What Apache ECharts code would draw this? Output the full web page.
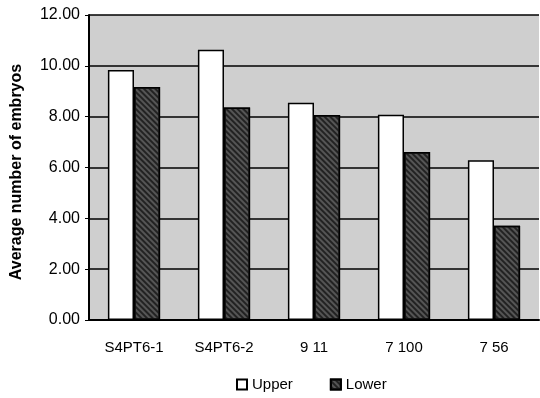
<!DOCTYPE html>
<html><head><meta charset="utf-8">
<script src="https://cdn.jsdelivr.net/npm/echarts@6/dist/echarts.min.js"></script>
<style>html,body{margin:0;padding:0;background:#fff}#c{width:540px;height:398px}</style>
</head><body><div id="c"></div>
<script>
const categories = ['S4PT6-1', 'S4PT6-2', '9 11', '7 100', '7 56'];
const upper = [9.84, 10.63, 8.55, 8.08, 6.29];
const lower = [9.17, 8.36, 8.07, 6.61, 3.71];
const yTicks = [0, 2, 4, 6, 8, 10, 12];
const yTitle = 'Average number of embryos';

const chart = echarts.init(document.getElementById('c'), null, {renderer: 'canvas'});
const font = 'Liberation Sans, Arial, sans-serif';
chart.setOption({
  animation: false,
  grid: {left: 89, right: 1, top: 15, bottom: 78, show: true, backgroundColor: '#cfcfcf', borderWidth: 0},
  legend: {
    bottom: 1, left: 231, itemWidth: 10, itemHeight: 10, itemGap: 37,
    textStyle: {fontFamily: font, fontSize: 15, color: '#000'},
    data: [{name: 'Upper', icon: 'rect'}, {name: 'Lower', icon: 'rect'}]
  },
  graphic: [{
    type: 'text', x: 17, y: 172, rotation: Math.PI / 2,
    style: {text: yTitle, font: 'bold 16px ' + font, fill: '#000', align: 'center', verticalAlign: 'middle'}
  }],
  xAxis: {
    type: 'category', data: categories,
    axisLine: {lineStyle: {color: '#000', width: 2}},
    axisTick: {show: false},
    axisLabel: {fontFamily: font, fontSize: 15, color: '#000', margin: 20}
  },
  yAxis: {
    type: 'value', min: yTicks[0], max: yTicks[yTicks.length - 1], interval: 2,
    axisLine: {show: true, lineStyle: {color: '#000', width: 2}},
    axisTick: {show: true, length: 4, lineStyle: {color: '#000'}},
    splitLine: {lineStyle: {color: '#000', width: 1.5}},
    axisLabel: {fontFamily: font, fontSize: 16, color: '#000', margin: 9,
      formatter: v => v.toFixed(2)}
  },
  series: [
    {name: 'Upper', type: 'bar', data: upper, barGap: '0%', barCategoryGap: '42%',
     itemStyle: {color: '#fff', borderColor: '#000', borderWidth: 1.5}},
    {name: 'Lower', type: 'bar', data: lower,
     itemStyle: {color: '#555', borderColor: '#000', borderWidth: 1.5,
       decal: {symbol: 'rect', dashArrayX: [1, 0], dashArrayY: [1.5, 1.5], rotation: Math.PI / 4, color: '#222'}}}
  ]
});
</script></body></html>
